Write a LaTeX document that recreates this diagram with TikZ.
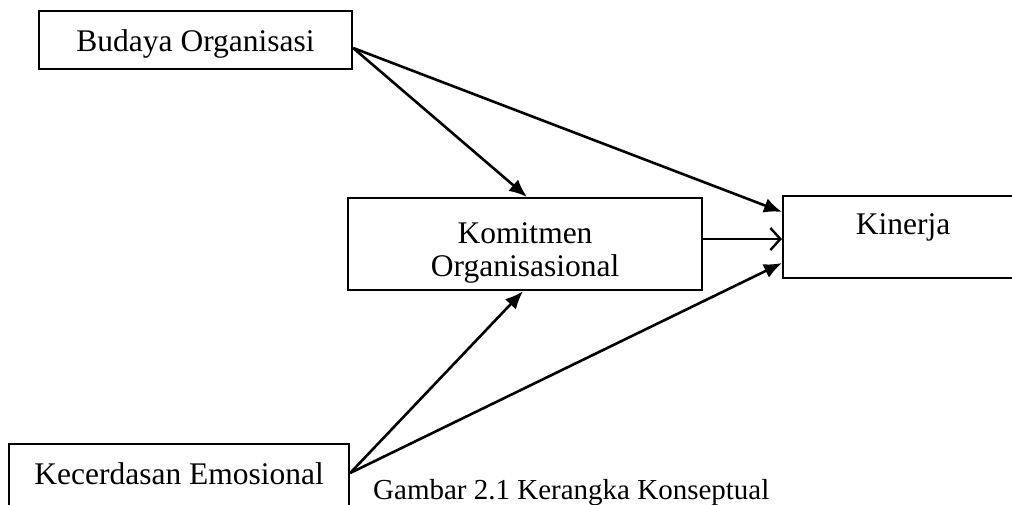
\documentclass[tikz,border=0pt]{standalone}
\usepackage{fontspec}
\setmainfont{Liberation Serif}
\usetikzlibrary{arrows.meta}
\begin{document}
\begin{tikzpicture}[x=1pt,y=-1pt,
  box/.style={draw, line width=2.2pt, inner sep=0pt, anchor=north west, align=center,
    font=\fontsize{31.5}{33}\selectfont},
  conn/.style={line width=2.6pt, -{Latex[length=18pt,width=15pt]}},
  openconn/.style={line width=2.6pt, -{Straight Barb[length=10pt,width=22pt,line width=2.4pt]}},
  caption/.style={anchor=base west, inner sep=0pt, font=\fontsize{29}{31}\selectfont}]
\useasboundingbox (0,0) rectangle (1012,504);
\node[box, minimum width=313pt, text height=40pt, text depth=18pt] (bud) at (38,10) {Budaya Organisasi};
\node[box, minimum width=354pt, text height=78pt, text depth=14pt] (kom) at (347,197) {Komitmen\\Organisasional};
\node[box, minimum width=240pt, text height=38pt, text depth=44pt] (kin) at (782,195) {Kinerja};
\node[box, minimum width=340pt, text height=40pt, text depth=40pt] (kec) at (8,443) {Kecerdasan Emosional};
\node[caption] (cap) at (373,499) {Gambar 2.1 Kerangka Konseptual};
\draw[conn] (bud.east |- 0,48) -- (527,0 |- kom.north);
\draw[conn] (bud.east |- 0,48) -- (kin.west |- 0,212);
\draw[openconn] (kom.east |- 0,239) -- (kin.west |- 0,239);
\draw[conn] (kec.east |- 0,473) -- (523,0 |- kom.south);
\draw[conn] (kec.east |- 0,473) -- (kin.west |- 0,263);
\end{tikzpicture}
\end{document}
